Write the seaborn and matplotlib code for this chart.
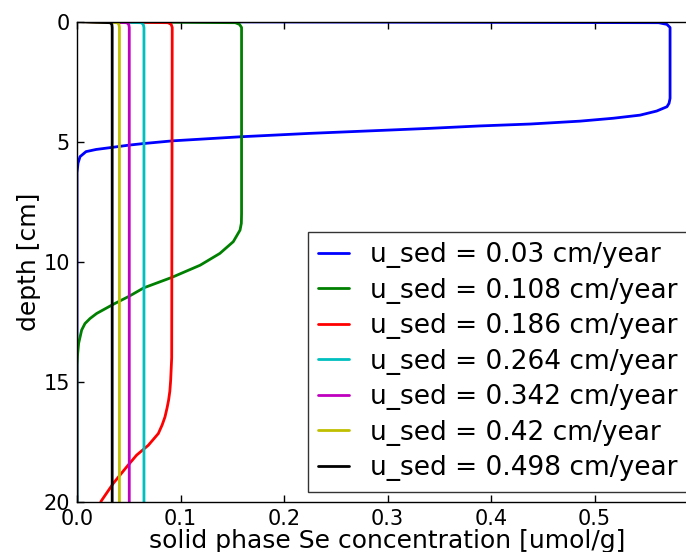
import numpy as np
import pandas as pd
import matplotlib
matplotlib.use("Agg")
import matplotlib.pyplot as plt
import seaborn as sns

labels = ["u_sed = 0.03 cm/year", "u_sed = 0.108 cm/year", "u_sed = 0.186 cm/year",
          "u_sed = 0.264 cm/year", "u_sed = 0.342 cm/year", "u_sed = 0.42 cm/year",
          "u_sed = 0.498 cm/year"]
colors = ["#0000ff", "#008000", "#ff0000", "#00bfbf", "#bf00bf", "#bfbf00", "#000000"]

depth_003 = [0, 0.05, 0.12, 0.25, 3.2, 3.41, 3.55, 3.73, 3.90, 4.03, 4.15, 4.27, 4.35,
             4.45, 4.53, 4.66, 4.80, 4.97, 5.08, 5.15, 5.24, 5.33, 5.42, 5.63, 5.9, 6.3, 20]
se_003 = [0, 0.562, 0.570, 0.573, 0.573, 0.572, 0.570, 0.560, 0.544, 0.518, 0.486, 0.438,
          0.389, 0.341, 0.297, 0.2245, 0.1585, 0.0925, 0.065, 0.050, 0.0345, 0.0184,
          0.0087, 0.0029, 0.001, 0, 0]

depth_0108 = [0, 0.05, 0.12, 0.25, 8.0, 8.4, 8.69, 9.17, 9.66, 10.15, 10.66, 11.09,
              11.44, 11.78, 12.16, 12.37, 12.58, 12.85, 13.4, 13.9, 14.3, 20]
se_0108 = [0, 0.153, 0.157, 0.159, 0.159, 0.1588, 0.1575, 0.151, 0.138, 0.119, 0.0915,
           0.0647, 0.0505, 0.035, 0.019, 0.0126, 0.0077, 0.0045, 0.0016, 0.0005, 0, 0]

depth_0186 = [0, 0.05, 0.12, 0.25, 14.0, 14.94, 15.4, 15.77, 16.1, 16.47, 16.8, 17.16,
              17.65, 18.06, 18.55, 19.24, 19.94, 20]
se_0186 = [0, 0.088, 0.091, 0.092, 0.0915, 0.0905, 0.0897, 0.0885, 0.087, 0.085, 0.0823,
           0.0786, 0.0689, 0.0576, 0.048, 0.035, 0.0239, 0.023]

depth_flat = [0, 0.05, 0.12, 0.25, 20]
se_0264 = [0, 0.062, 0.0640, 0.0647, 0.0647]
se_0342 = [0, 0.048, 0.0500, 0.0505, 0.0505]
se_042 = [0, 0.039, 0.0405, 0.041, 0.041]
se_0498 = [0, 0.032, 0.0337, 0.034, 0.034]

depths = [depth_003, depth_0108, depth_0186, depth_flat, depth_flat, depth_flat, depth_flat]
values = [se_003, se_0108, se_0186, se_0264, se_0342, se_042, se_0498]

frames = []
for lab, d, v in zip(labels, depths, values):
    frames.append(pd.DataFrame({"depth": d, "se": v, "series": lab}))
df = pd.concat(frames, ignore_index=True)

sns.set_theme(style="white")
plt.rcParams["font.family"] = ["DejaVu Sans"]
plt.rcParams["text.color"] = "black"
plt.rcParams["axes.labelcolor"] = "black"
plt.rcParams["xtick.color"] = "black"
plt.rcParams["ytick.color"] = "black"

fig = plt.figure(figsize=(6.86, 5.52), dpi=100)
ax = fig.add_axes([77 / 686, 1 - 501.7 / 552, 621 / 686, 480.2 / 552])

sns.lineplot(data=df, x="se", y="depth", hue="series", hue_order=labels,
             palette=colors, sort=False, estimator=None, units="series",
             linewidth=2, ax=ax, legend=False)

ax.set_xlim(0, 0.6)
ax.set_ylim(20, 0)
ax.set_xticks([0.0, 0.1, 0.2, 0.3, 0.4, 0.5])
ax.set_xticklabels(["0.0", "0.1", "0.2", "0.3", "0.4", "0.5"])
ax.set_yticks([0, 5, 10, 15, 20])
ax.tick_params(direction="in", length=5, width=1, top=True, right=True,
               bottom=True, left=True, labelsize=15, pad=5, colors="black")
for s in ax.spines.values():
    s.set_color("black")
    s.set_linewidth(1)
ax.set_xlabel("solid phase Se concentration [umol/g]", fontsize=18, labelpad=0)
ax.set_ylabel("depth [cm]", fontsize=18, labelpad=2)

handles = [plt.Line2D([], [], color=c, lw=2) for c in colors]
leg = ax.legend(handles, labels, loc="lower right", fontsize=19, handlelength=1.15,
                handletextpad=0.8, labelspacing=0.36, borderpad=0.4, borderaxespad=0.38,
                frameon=True, fancybox=False)
leg.get_frame().set_edgecolor("black")
leg.get_frame().set_linewidth(1)

fig.savefig("out.png", dpi=100)
